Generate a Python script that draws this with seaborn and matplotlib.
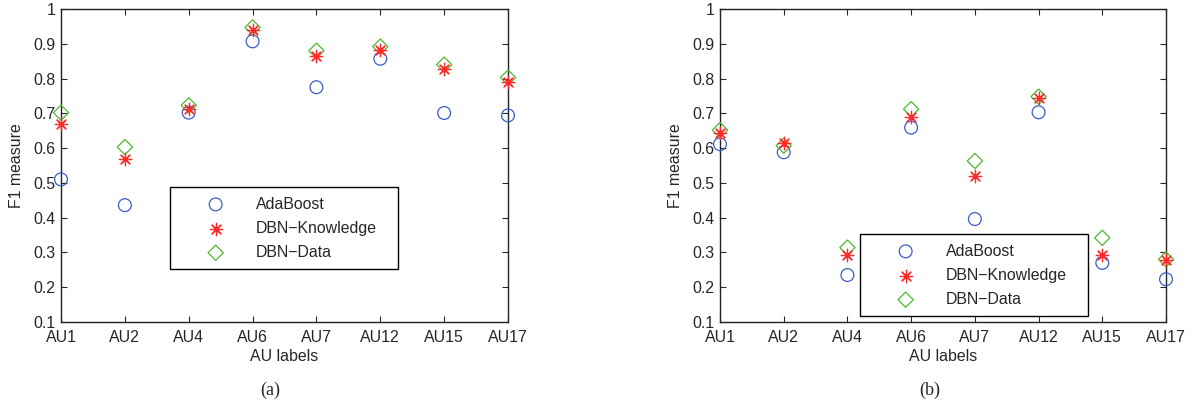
import numpy as np
import pandas as pd
import seaborn as sns
import matplotlib.pyplot as plt

# AU categories and F1 scores
au_labels = ['AU1', 'AU2', 'AU4', 'AU6', 'AU7', 'AU12', 'AU15', 'AU17']

# (a)
ada_a = [0.510, 0.436, 0.702, 0.907, 0.775, 0.857, 0.701, 0.694]
know_a = [0.670, 0.568, 0.713, 0.940, 0.866, 0.882, 0.828, 0.790]
data_a = [0.702, 0.603, 0.723, 0.947, 0.880, 0.892, 0.840, 0.803]

# (b)
ada_b = [0.611, 0.588, 0.235, 0.659, 0.396, 0.703, 0.270, 0.223]
know_b = [0.643, 0.616, 0.293, 0.689, 0.521, 0.743, 0.292, 0.278]
data_b = [0.652, 0.607, 0.314, 0.712, 0.563, 0.748, 0.342, 0.280]

sns.set_style('ticks')
plt.rcParams['font.family'] = ['Liberation Sans', 'DejaVu Sans']

blue = '#3d5cc4'
red = '#ff2a2a'
green = '#4cb830'
asterisk = (8, 2, 0)
fs = 11.4


def draw_panel(ax, ada, know, data, legend_box):
	df = pd.DataFrame({'AU': au_labels, 'AdaBoost': ada, 'DBN-Knowledge': know, 'DBN-Data': data})
	sns.scatterplot(data=df, x='AU', y='AdaBoost', ax=ax, marker='o', s=85,
	                facecolors='none', edgecolor=blue, linewidth=0.9, label='AdaBoost', zorder=3)
	sns.scatterplot(data=df, x='AU', y='DBN-Knowledge', ax=ax, marker=asterisk, s=80,
	                color=red, linewidth=0.9, label='DBN\u2212Knowledge', zorder=4)
	sns.scatterplot(data=df, x='AU', y='DBN-Data', ax=ax, marker='D', s=60,
	                facecolors='none', edgecolor=green, linewidth=0.9, label='DBN\u2212Data', zorder=3)
	for coll in ax.collections:
		coll.set_clip_on(False)
	ax.set_xlim(0, len(au_labels) - 1)
	ax.set_ylim(0.1, 1.0)
	ax.set_yticks(np.arange(0.1, 1.01, 0.1))
	ax.set_yticklabels(['0.1', '0.2', '0.3', '0.4', '0.5', '0.6', '0.7', '0.8', '0.9', '1'])
	ax.set_xlabel('AU labels', fontsize=fs, labelpad=2.5)
	ax.set_ylabel('F1 measure', fontsize=fs, labelpad=7)
	ax.tick_params(direction='in', top=True, right=True, labelsize=fs, length=4, width=0.8, pad=4)
	ax.tick_params(axis='x', pad=6)
	for sp in ax.spines.values():
		sp.set_visible(True)
		sp.set_linewidth(1.0)
		sp.set_color('#222222')
	leg = ax.legend(loc='lower left', bbox_to_anchor=legend_box, mode='expand',
	                borderaxespad=0, fancybox=False, edgecolor='black', framealpha=1,
	                fontsize=fs, handletextpad=0.25, borderpad=0.58, labelspacing=0.58,
	                handlelength=4.6)
	leg.get_frame().set_linewidth(1.0)
	leg.set_zorder(2)


fig = plt.figure(figsize=(11.99, 4.07), dpi=100)
ax1 = fig.add_axes([61 / 1199, 1 - 322 / 407, 447 / 1199, 313 / 407])
ax2 = fig.add_axes([720 / 1199, 1 - 322 / 407, 446 / 1199, 313 / 407])

draw_panel(ax1, ada_a, know_a, data_a, (0.244, 0.169, 0.51, 0.26))
draw_panel(ax2, ada_b, know_b, data_b, (0.314, 0.019, 0.511, 0.26))

fig.text(270 / 1199, 1 - 390 / 407, '(a)', ha='center', va='center', fontsize=13, family='Liberation Serif')
fig.text(930 / 1199, 1 - 390 / 407, '(b)', ha='center', va='center', fontsize=13, family='Liberation Serif')

fig.savefig('out.png', dpi=100)
